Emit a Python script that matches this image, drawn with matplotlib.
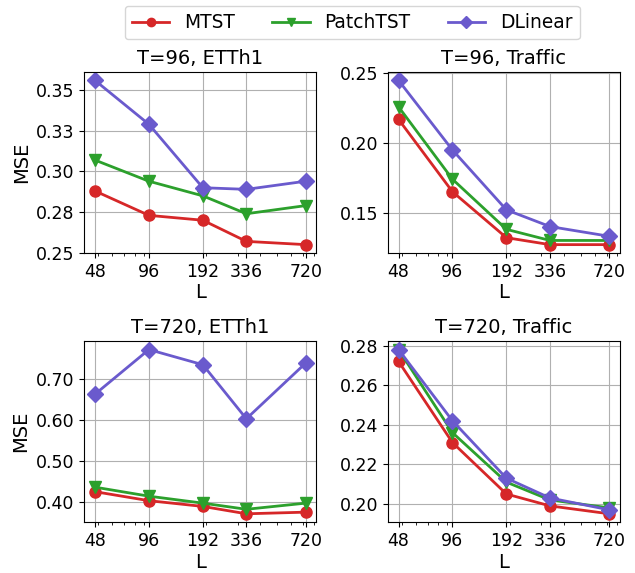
import matplotlib
matplotlib.use("Agg")
import matplotlib.pyplot as plt
from matplotlib.ticker import FormatStrFormatter, NullFormatter

L = [48, 96, 192, 336, 720]
models = ["MTST", "PatchTST", "DLinear"]
titles = ["T=96, ETTh1", "T=96, Traffic", "T=720, ETTh1", "T=720, Traffic"]

etth1_96_mtst = [0.288, 0.273, 0.270, 0.257, 0.255]
etth1_96_patch = [0.307, 0.294, 0.285, 0.274, 0.279]
etth1_96_dlinear = [0.356, 0.329, 0.290, 0.289, 0.294]

traffic_96_mtst = [0.217, 0.165, 0.132, 0.127, 0.127]
traffic_96_patch = [0.226, 0.174, 0.138, 0.130, 0.130]
traffic_96_dlinear = [0.245, 0.195, 0.152, 0.140, 0.133]

etth1_720_mtst = [0.426, 0.404, 0.390, 0.372, 0.376]
etth1_720_patch = [0.437, 0.415, 0.398, 0.383, 0.398]
etth1_720_dlinear = [0.664, 0.773, 0.736, 0.604, 0.740]

traffic_720_mtst = [0.272, 0.231, 0.205, 0.199, 0.195]
traffic_720_patch = [0.278, 0.236, 0.211, 0.202, 0.198]
traffic_720_dlinear = [0.278, 0.242, 0.213, 0.203, 0.197]

panels = [
    (etth1_96_mtst, etth1_96_patch, etth1_96_dlinear),
    (traffic_96_mtst, traffic_96_patch, traffic_96_dlinear),
    (etth1_720_mtst, etth1_720_patch, etth1_720_dlinear),
    (traffic_720_mtst, traffic_720_patch, traffic_720_dlinear),
]

colors = ["#d62728", "#2ca02c", "#6a5acd"]
markers = ["o", "v", "D"]

plt.rcParams["font.family"] = "DejaVu Sans"
plt.rcParams["font.size"] = 12

fig, axes = plt.subplots(2, 2, figsize=(6.35, 5.73), dpi=100)
fig.subplots_adjust(left=0.133, right=0.976, top=0.874, bottom=0.089, wspace=0.31, hspace=0.49)

handles = []
for i, ax in enumerate(axes.flat):
    series = panels[i]
    for j, s in enumerate(series):
        h, = ax.plot(L, s, color=colors[j], marker=markers[j], markersize=8,
                     linewidth=2, label=models[j])
        if i == 0:
            handles.append(h)
    ax.set_xscale("log")
    ax.set_xticks(L)
    ax.set_xticklabels([str(v) for v in L])
    ax.xaxis.set_minor_formatter(NullFormatter())
    ax.yaxis.set_major_formatter(FormatStrFormatter("%.2f"))
    ax.grid(True, which="major", color="#b0b0b0", linewidth=0.8)
    ax.set_title(titles[i], fontsize=14)
    ax.set_xlabel("L", fontsize=14, labelpad=2)
    ax.tick_params(labelsize=12.5)
    if i % 2 == 0:
        ax.set_ylabel("MSE", fontsize=14)

fig.legend(handles, models, loc="upper center", ncol=3, fontsize=13.4,
           bbox_to_anchor=(352.3 / 635, 1.0), borderaxespad=0.3, frameon=True,
           handlelength=2, columnspacing=2.0, markerscale=0.75)

fig.savefig("out.png", dpi=100)
